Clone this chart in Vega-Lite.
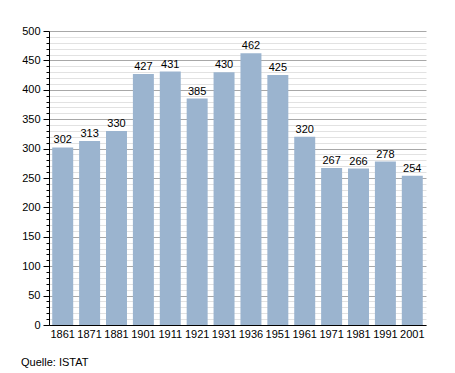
{
  "$schema": "https://vega.github.io/schema/vega-lite/v6.json",
  "width": 377,
  "height": 294,
  "autosize": {"type": "none"},
  "padding": {"left": 49, "top": 31, "right": 29, "bottom": 48},
  "background": "white",
  "config": {
    "font": "Liberation Sans",
    "view": {"stroke": null}
  },
  "title": {
    "text": "Quelle: ISTAT",
    "orient": "bottom",
    "anchor": "start",
    "frame": "group",
    "offset": 18,
    "dx": -28,
    "fontSize": 11,
    "fontWeight": "normal",
    "color": "#000000",
    "font": "Liberation Sans"
  },
  "data": {
    "values": [
      {"year": "1861", "pop": 302},
      {"year": "1871", "pop": 313},
      {"year": "1881", "pop": 330},
      {"year": "1901", "pop": 427},
      {"year": "1911", "pop": 431},
      {"year": "1921", "pop": 385},
      {"year": "1931", "pop": 430},
      {"year": "1936", "pop": 462},
      {"year": "1951", "pop": 425},
      {"year": "1961", "pop": 320},
      {"year": "1971", "pop": 267},
      {"year": "1981", "pop": 266},
      {"year": "1991", "pop": 278},
      {"year": "2001", "pop": 254}
    ]
  },
  "encoding": {
    "x": {
      "field": "year",
      "type": "ordinal",
      "sort": null,
      "scale": {"paddingInner": 0.22, "paddingOuter": 0.12},
      "axis": {
        "title": null,
        "labelAngle": 0,
        "labelFontSize": 11,
        "labelColor": "#000000",
        "ticks": false,
        "domainColor": "#000000",
        "domainWidth": 1,
        "labelPadding": 3
      }
    },
    "y": {
      "field": "pop",
      "type": "quantitative",
      "scale": {"domain": [0, 500], "nice": false},
      "axis": {
        "title": null,
        "values": [0,10,20,30,40,50,60,70,80,90,100,110,120,130,140,150,160,170,180,190,200,210,220,230,240,250,260,270,280,290,300,310,320,330,340,350,360,370,380,390,400,410,420,430,440,450,460,470,480,490,500],
        "labelExpr": "datum.value % 50 === 0 ? datum.label : ''",
        "labelFontSize": 11,
        "labelColor": "#000000",
        "labelPadding": 3,
        "domainColor": "#000000",
        "tickColor": "#000000",
        "tickSize": {"condition": {"test": "datum.value % 50 === 0", "value": 6}, "value": 3},
        "grid": true,
        "gridColor": {"condition": {"test": "datum.value % 50 === 0", "value": "#a8a8a8"}, "value": "#e2e2e2"},
        "gridWidth": 1
      }
    }
  },
  "layer": [
    {"mark": {"type": "bar", "color": "#9bb4cf"}},
    {
      "mark": {"type": "text", "baseline": "bottom", "dy": -2, "fontSize": 11, "color": "#000000"},
      "encoding": {"text": {"field": "pop", "type": "quantitative"}}
    }
  ]
}
